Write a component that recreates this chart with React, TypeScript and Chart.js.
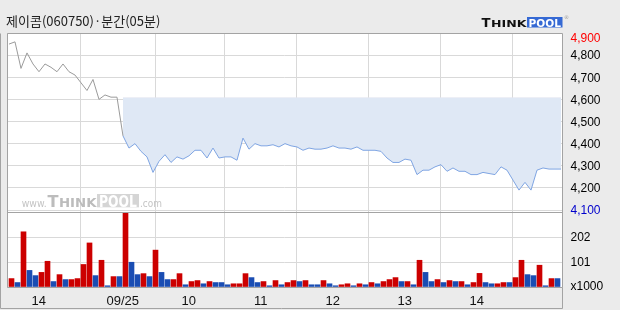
import React, { useEffect, useRef } from "react";
import { Chart, registerables } from "chart.js";

Chart.register(...registerables);

// ---------------- data ----------------
const chartTitle = "제이콤(060750)·분간(05분)";

// category index (5-minute slot) where each time label sits
const timeTickIndex = [5, 19, 30, 42, 54, 66, 78];
const timeTickLabels = ["14", "09/25", "10", "11", "12", "13", "14"];

const prevClose = 4610;

// previous session prices (slots 0..18)
const pricePrevDay = [
  4850, 4860, 4740, 4810, 4760, 4725, 4760, 4745, 4725, 4760,
  4725, 4710, 4675, 4640, 4690, 4600, 4620, 4610, 4610,
];

// today's prices (slots 19..92)
const priceToday = [
  4435, 4380, 4400, 4365, 4340, 4270, 4320, 4350, 4315, 4340,
  4330, 4345, 4370, 4370, 4335, 4380, 4335, 4340, 4340, 4325,
  4425, 4375, 4400, 4390, 4390, 4395, 4385, 4400, 4390, 4385,
  4370, 4380, 4375, 4375, 4380, 4390, 4380, 4380, 4375, 4385,
  4370, 4370, 4370, 4365, 4335, 4315, 4315, 4330, 4325, 4260,
  4280, 4280, 4295, 4305, 4275, 4290, 4275, 4275, 4260, 4260,
  4270, 4265, 4260, 4295, 4280, 4235, 4190, 4225, 4190, 4280,
  4290, 4285, 4285, 4285,
];

// volume (x1000) per slot
const volumes = [
  34, 18, 223, 67, 46, 59, 104, 22, 50, 30,
  30, 34, 91, 178, 46, 108, 5, 42, 42, 301,
  100, 50, 54, 42, 149, 59, 30, 30, 54, 9,
  22, 26, 13, 22, 18, 18, 9, 13, 13, 54,
  38, 18, 22, 5, 26, 9, 18, 26, 22, 26,
  9, 9, 26, 13, 5, 9, 13, 5, 13, 9,
  18, 13, 22, 30, 38, 22, 22, 9, 108, 59,
  22, 30, 18, 26, 22, 22, 9, 18, 55, 18,
  13, 13, 18, 18, 38, 108, 50, 46, 88, 5,
  34, 34,
];
// 1 = up slot (red), 0 = down slot (blue)
const volumeUp = [
  1, 0, 1, 0, 0, 1, 1, 0, 1, 0,
  1, 1, 1, 1, 0, 1, 0, 1, 0, 1,
  0, 0, 1, 0, 1, 0, 0, 1, 1, 0,
  1, 1, 0, 1, 0, 0, 0, 1, 1, 1,
  0, 0, 1, 0, 1, 0, 1, 1, 0, 1,
  0, 0, 1, 0, 0, 1, 1, 0, 1, 0,
  1, 0, 1, 1, 1, 0, 1, 0, 1, 0,
  0, 1, 0, 1, 0, 1, 0, 1, 1, 0,
  0, 1, 1, 0, 1, 1, 0, 0, 1, 0,
  1, 0,
];

const priceTicks = [4100, 4200, 4300, 4400, 4500, 4600, 4700, 4800, 4900];
const priceTickLabels = ["4,100", "4,200", "4,300", "4,400", "4,500", "4,600", "4,700", "4,800", "4,900"];
const volumeTicks = [0, 101, 202, 303];
const volumeTickLabels = ["x1000", "101", "202", ""];

// ---------------- styling ----------------
const RED = "#cc0000";
const BLUE = "#1a4db3";
const GRID = "#d9d9d9";
const FRAME = "#a3a3a3";
const AXIS_FONT = "'Liberation Sans', Arial, sans-serif";
const LOGO_FONT = "'DejaVu Sans', sans-serif";

const framePlugin = {
  id: "frame",
  beforeDraw(chart: any) {
    const { ctx, chartArea: a } = chart;
    ctx.save();
    ctx.fillStyle = "#ffffff";
    ctx.fillRect(a.left, a.top, a.right - a.left, a.bottom - a.top);
    ctx.restore();
  },
  afterDraw(chart: any) {
    const { ctx, chartArea: a } = chart;
    const yp = chart.scales.yp;
    const yv = chart.scales.yv;
    ctx.save();
    ctx.strokeStyle = FRAME;
    ctx.lineWidth = 1;
    const L = Math.round(a.left) + 0.5;
    const R = Math.round(a.right) + 0.5;
    const T = Math.round(a.top) + 0.5;
    const B = Math.round(a.bottom) + 0.5;
    const D = Math.round(yv.top) + 0.5;
    ctx.beginPath();
    ctx.rect(L, T, R - L, B - T);
    ctx.moveTo(L, D);
    ctx.lineTo(R, D);
    // outer frame
    ctx.moveTo(0.5, T);
    ctx.lineTo(0.5, 308.5);
    ctx.lineTo(R, 308.5);
    ctx.lineTo(R, B);
    ctx.stroke();

    // right-side labels
    ctx.font = "12px " + AXIS_FONT;
    ctx.textAlign = "left";
    ctx.textBaseline = "middle";
    const lx = R + 8;
    priceTicks.forEach((v, i) => {
      let y = yp.getPixelForValue(v) + 1;
      if (y < a.top + 6) y = a.top + 6;
      ctx.fillStyle = i === priceTicks.length - 1 ? "#ff0000" : i === 0 ? "#0000cc" : "#000000";
      ctx.fillText(priceTickLabels[i], lx, y);
    });
    volumeTicks.forEach((v, i) => {
      if (!volumeTickLabels[i]) return;
      let y = yv.getPixelForValue(v) + 1;
      if (i === 0) y -= 1.5;
      ctx.fillStyle = "#000000";
      ctx.fillText(volumeTickLabels[i], lx, y);
    });
    ctx.restore();
  },
};

function PriceChart() {
  const ref = useRef<HTMLCanvasElement | null>(null);
  useEffect(() => {
    if (!ref.current) return;
    const grayData = pricePrevDay.map((v, i) => ({ x: i + 0.05, y: v }));
    grayData.push({ x: pricePrevDay.length + 0.05, y: priceToday[0] });
    const blueData = priceToday.map((v, k) => ({ x: pricePrevDay.length + k + 0.05, y: v }));
    const volData = volumes.map((v, i) => ({ x: i + 0.467, y: v }));

    const chart = new Chart(ref.current, {
      type: "bar",
      data: {
        datasets: [
          {
            type: "line",
            data: blueData,
            yAxisID: "yp",
            borderColor: "#7fa5e3",
            borderWidth: 1,
            pointRadius: 0,
            tension: 0,
            fill: { target: { value: prevClose }, above: "#f6dede", below: "#dfe8f5" },
            order: 2,
          } as any,
          {
            type: "line",
            data: grayData,
            yAxisID: "yp",
            borderColor: "#9b9b9b",
            borderWidth: 1,
            pointRadius: 0,
            tension: 0,
            fill: false,
            order: 1,
          } as any,
          {
            type: "bar",
            data: volData,
            yAxisID: "yv",
            backgroundColor: volumeUp.map((u) => (u ? RED : BLUE)),
            borderWidth: 0,
            barThickness: 5,
            order: 3,
          } as any,
        ],
      },
      options: {
        animation: false,
        responsive: false,
        events: [],
        layout: { padding: { left: 7, top: 33, right: 0, bottom: 0 } },
        plugins: {
          legend: { display: false },
          tooltip: { enabled: false },
          title: { display: false },
        },
        scales: {
          x: {
            type: "linear",
            min: -0.283,
            max: 92.217,
            offset: false,
            afterBuildTicks: (s: any) => {
              s.ticks = timeTickIndex.map((v) => ({ value: v }));
            },
            afterFit: (s: any) => {
              s.height = 23;
            },
            ticks: {
              autoSkip: false,
              maxRotation: 0,
              padding: 7,
              color: "#111111",
              font: { family: AXIS_FONT, size: 13 },
              callback: (_v: any, i: number) => timeTickLabels[i],
            },
            grid: { color: GRID, drawTicks: false, lineWidth: 1 },
            border: { display: false },
          },
          yp: {
            type: "linear",
            position: "right",
            stack: "panes",
            stackWeight: 179,
            min: 4091,
            max: 4900,
            afterBuildTicks: (s: any) => {
              s.ticks = priceTicks.map((v) => ({ value: v }));
            },
            afterFit: (s: any) => {
              s.width = 58;
            },
            ticks: { display: false },
            grid: { color: GRID, drawTicks: false, lineWidth: 1 },
            border: { display: false },
          },
          yv: {
            type: "linear",
            position: "right",
            stack: "panes",
            stackWeight: 75,
            min: 0,
            max: 303,
            afterBuildTicks: (s: any) => {
              s.ticks = volumeTicks.map((v) => ({ value: v }));
            },
            afterFit: (s: any) => {
              s.width = 58;
            },
            ticks: { display: false },
            grid: { color: GRID, drawTicks: false, lineWidth: 1 },
            border: { display: false },
          },
        } as any,
      },
      plugins: [framePlugin],
    });
    return () => chart.destroy();
  }, []);
  return <canvas ref={ref} width={620} height={310} style={{ position: "absolute", left: 0, top: 0, width: 620, height: 310 }} />;
}

// header logo, drawn as SVG text
function HeaderLogo() {
  return (
    <svg width={100} height={20} style={{ position: "absolute", left: 481, top: 12 }} fontFamily={LOGO_FONT} fontWeight={700}>
      <text x={0.5} y={15} fontSize={12.5} fill="#111" textLength={9} lengthAdjust="spacingAndGlyphs">T</text>
      <text x={10} y={15} fontSize={9.5} fill="#111" textLength={35.5} lengthAdjust="spacingAndGlyphs">HINK</text>
      <rect x={46} y={5} width={35.5} height={10.5} fill="#3569d4" />
      <text x={47.5} y={15} fontSize={11} fill="#ffffff" textLength={32.5} lengthAdjust="spacingAndGlyphs">POOL</text>
      <text x={83} y={7} fontSize={5} fontWeight={400} fill="#999">®</text>
    </svg>
  );
}

// watermark inside the price pane
function Watermark() {
  return (
    <svg width={150} height={24} style={{ position: "absolute", left: 20, top: 188, pointerEvents: "none" }} fontFamily={LOGO_FONT}>
      <text x={1.7} y={19} fontSize={11} fill="#c4c4c4" textLength={25} lengthAdjust="spacingAndGlyphs">www.</text>
      <text x={27.5} y={19} fontSize={16.5} fontWeight={700} fill="#bcbcbc" textLength={11} lengthAdjust="spacingAndGlyphs">T</text>
      <text x={39} y={19} fontSize={12.5} fontWeight={700} fill="#bcbcbc" textLength={37.5} lengthAdjust="spacingAndGlyphs">HINK</text>
      <rect x={77} y={6} width={42} height={13.3} fill="#d5d5d5" />
      <text x={79} y={19} fontSize={15} fontWeight={700} fill="#ffffff" textLength={38} lengthAdjust="spacingAndGlyphs">POOL</text>
      <text x={120} y={19} fontSize={11} fill="#c4c4c4" textLength={22} lengthAdjust="spacingAndGlyphs">.com</text>
    </svg>
  );
}

export default function App() {
  return (
    <div style={{ position: "absolute", left: 0, top: 0, width: 620, height: 310, background: "#ebebeb", overflow: "hidden" }}>
      <PriceChart />
      <div
        style={{
          position: "absolute",
          left: 6,
          top: 14,
          fontFamily: "'Noto Sans CJK KR', sans-serif",
          fontSize: 13,
          lineHeight: 1,
          color: "#222",
          whiteSpace: "nowrap",
        }}
      >
        {chartTitle}
      </div>
      <HeaderLogo />
      <Watermark />
    </div>
  );
}
